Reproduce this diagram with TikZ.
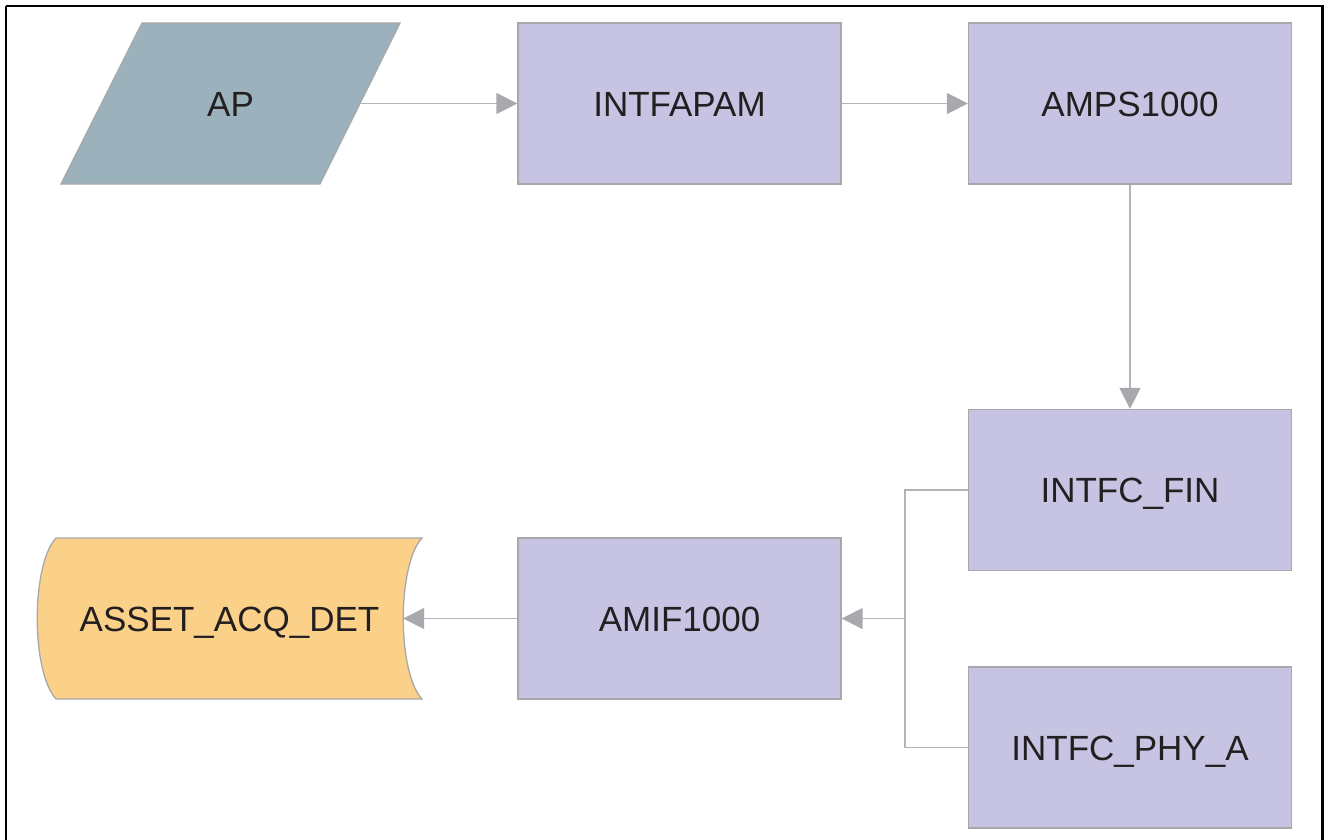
\documentclass[tikz,border=0pt]{standalone}
\usepackage{fontspec}
\setmainfont{Liberation Sans}
\usepackage{tikz}
\usetikzlibrary{arrows.meta}

\definecolor{procfill}{RGB}{198,196,226}
\definecolor{apfill}{RGB}{155,178,188}
\definecolor{acqfill}{RGB}{251,209,138}
\definecolor{edgegray}{RGB}{168,168,170}
\definecolor{linegray}{RGB}{180,180,182}
\definecolor{tipgray}{RGB}{167,169,172}
\definecolor{txt}{RGB}{35,31,32}

\begin{document}
\begin{tikzpicture}[x=1pt,y=1pt,yscale=-1,xscale=1,
        font=\fontsize{35}{42}\selectfont, text=txt,
        every node/.style={text height=25pt, text depth=0pt},
        proc/.style={draw=edgegray, fill=procfill, line width=1.3pt, minimum width=323pt, minimum height=161pt, inner sep=0pt},
        flow/.style={draw=linegray, line width=1.4pt},
        arr/.style={flow, -{Triangle[length=21pt,width=21pt,color=tipgray]}}]
        \useasboundingbox (0,0) rectangle (1328,839);
        \draw [line width=2.2pt] (6,6) -- (1322.5,6) -- (1322.5,850) ;
        \draw [line width=2.2pt] (6,6) -- (6,850) ;

        \path [fill=apfill, draw=edgegray, line width=1.3pt] (142,23) -- (400,23) -- (320,184) -- (61,184) -- cycle ;
        \node (AP) at (230.5,103.5) [minimum width=259pt, minimum height=161pt, inner sep=0pt] {AP};
        \node [proc] (intfapam) at (679.5,103.5) {INTFAPAM};
        \node [proc] (amps) at (1130,103.5) {AMPS1000};
        \node [proc] (fin) at (1130,490) {INTFC\_FIN};
        \node [proc] (phy) at (1130,747.5) {INTFC\_PHY\_A};
        \node [proc] (amif) at (679.5,618.5) {AMIF1000};

        \path [fill=acqfill, draw=edgegray, line width=1.3pt] (56,538) -- (422,538) .. controls (397,565) and (397,672) .. (422,699) -- (56,699) .. controls (31,672) and (31,565) .. (56,538) -- cycle ;
        \node (acq) at (229.5,618.5) [minimum width=347pt, minimum height=161pt, inner sep=0pt] {ASSET\_ACQ\_DET};

        \coordinate (join) at (905,618.5);
        \draw [arr] (AP.east) -- (intfapam.west) ;
        \draw [arr] (intfapam.east) -- (amps.west) ;
        \draw [arr] (amps.south) -- (fin.north) ;
        \draw [flow] (fin.west) -| (join) ;
        \draw [flow] (phy.west) -| (join) ;
        \draw [arr] (join) -- (amif.east) ;
        \draw [arr] (amif.west) -- (acq.east) ;
\end{tikzpicture}
\end{document}
